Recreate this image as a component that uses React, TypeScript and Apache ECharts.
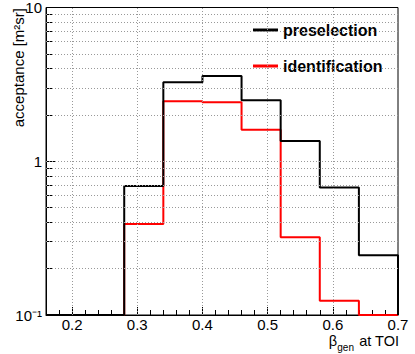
import React, { useEffect, useRef } from "react";
import * as echarts from "echarts";

const binEdges = [0.16, 0.22, 0.28, 0.34, 0.4, 0.46, 0.52, 0.58, 0.64, 0.7];
const preselection = [0.1, 0.1, 0.69, 3.26, 3.58, 2.49, 1.355, 0.675, 0.245];
const identification = [0.1, 0.1, 0.39, 2.46, 2.42, 1.6, 0.32, 0.124, 0.1];
const xMajorTicks = [0.2, 0.3, 0.4, 0.5, 0.6, 0.7];
const xMinorTicks = [0.18, 0.22, 0.24, 0.26, 0.28, 0.32, 0.34, 0.36, 0.38, 0.42, 0.44, 0.46, 0.48, 0.52, 0.54, 0.56, 0.58, 0.62, 0.64, 0.66, 0.68];
const yMinorTicks = [0.2, 0.3, 0.4, 0.5, 0.6, 0.7, 0.8, 0.9, 2, 3, 4, 5, 6, 7, 8, 9];
const yGridValues = [0.2, 0.3, 0.4, 0.5, 0.6, 0.7, 0.8, 0.9, 1, 2, 3, 4, 5, 6, 7, 8, 9];
const xGridValues = [0.2, 0.3, 0.4, 0.5, 0.6];

const FONT = "'Liberation Sans', Arial, Helvetica, sans-serif";

function stepData(vals: number[]) {
  const pts: number[][] = [];
  for (let i = 0; i < binEdges.length; i++) {
    pts.push([binEdges[i], vals[Math.min(i, vals.length - 1)]]);
  }
  pts.push([binEdges[binEdges.length - 1], 0.1]);
  return pts;
}

export default function App() {
  const ref = useRef<HTMLDivElement>(null);
  useEffect(() => {
    if (!ref.current) return;
    const chart = echarts.init(ref.current, undefined, { renderer: "svg" });
    const gridLine = { type: [1, 2], color: "#999", width: 1 };
    chart.setOption({
      animation: false,
      backgroundColor: "#fff",
      grid: {
        left: 46,
        right: 17,
        top: 7,
        bottom: 39,
        show: true,
        borderColor: "#000",
        borderWidth: 1,
        backgroundColor: "transparent",
      },
      legend: {
        left: 253,
        top: 21,
        padding: 0,
        orient: "vertical",
        itemWidth: 25,
        itemHeight: 3,
        itemGap: 18,
        icon: "rect",
        data: ["preselection", "identification"],
        textStyle: {
          fontFamily: FONT,
          fontWeight: "bold",
          fontSize: 16,
          color: "#000",
          lineHeight: 18,
        },
      },
      xAxis: [
        {
          type: "value",
          min: 0.16,
          max: 0.7,
          axisLine: { show: true, lineStyle: { color: "#000", width: 1 } },
          axisTick: { show: true, inside: true, length: 8, customValues: xMajorTicks, lineStyle: { color: "#000" } },
          axisLabel: {
            show: true,
            customValues: xMajorTicks,
            margin: 2,
            fontFamily: FONT,
            fontSize: 15,
            lineHeight: 15,
            color: "#000",
            formatter: (v: number) => v.toFixed(1),
          },
          splitLine: { show: false },
        },
        {
          type: "value",
          min: 0.16,
          max: 0.7,
          position: "bottom",
          axisLine: { show: false },
          axisTick: { show: true, inside: true, length: 5, customValues: xMinorTicks, lineStyle: { color: "#000" } },
          axisLabel: { show: false },
          splitLine: { show: false },
        },
      ],
      yAxis: [
        {
          type: "log",
          logBase: 10,
          min: 0.1,
          max: 10,
          axisLine: { show: true, lineStyle: { color: "#000", width: 1 } },
          axisTick: { show: true, inside: true, length: 9, lineStyle: { color: "#000" } },
          axisLabel: {
            margin: 4,
            fontFamily: FONT,
            fontSize: 15,
            color: "#000",
            formatter: (v: number) => {
              if (Math.abs(v - 0.1) < 1e-6) return "10⁻¹";
              if (Math.abs(v - 1) < 1e-6) return "1";
              if (Math.abs(v - 10) < 1e-6) return "10";
              return "";
            },
          },
          splitLine: { show: false },
        },
        {
          type: "log",
          logBase: 10,
          min: 0.1,
          max: 10,
          position: "left",
          axisLine: { show: false },
          axisTick: { show: true, inside: true, length: 7, customValues: yMinorTicks, lineStyle: { color: "#000" } },
          axisLabel: { show: false },
          splitLine: { show: false },
        },
      ],
      graphic: [
        {
          type: "text",
          x: 18,
          y: 8,
          rotation: Math.PI / 2,
          style: {
            text: "acceptance [m²sr]",
            font: `15px ${FONT}`,
            fill: "#000",
            align: "right",
            verticalAlign: "middle",
          },
        },
        {
          type: "text",
          x: 399,
          y: 341,
          style: {
            text: "at TOI",
            font: `14.5px ${FONT}`,
            fill: "#000",
            align: "right",
            verticalAlign: "middle",
          },
        },
        {
          type: "text",
          x: 354,
          y: 347.5,
          style: {
            text: "gen",
            font: `10px ${FONT}`,
            fill: "#000",
            align: "right",
            verticalAlign: "middle",
          },
        },
        {
          type: "text",
          x: 337,
          y: 341,
          style: {
            text: "β",
            font: `14.5px ${FONT}`,
            fill: "#000",
            align: "right",
            verticalAlign: "middle",
          },
        },
      ],
      series: [
        {
          name: "grid",
          type: "line",
          data: [],
          z: 1,
          silent: true,
          markLine: {
            silent: true,
            symbol: "none",
            label: { show: false },
            lineStyle: gridLine,
            data: [
              ...yGridValues.map((v) => ({ yAxis: v })),
              ...xGridValues.map((v) => ({ xAxis: v })),
            ],
          },
        },
        {
          name: "identification",
          type: "line",
          step: "end",
          data: stepData(identification),
          showSymbol: false,
          symbol: "none",
          clip: false,
          z: 3,
          color: "#ff0000",
          lineStyle: { color: "#ff0000", width: 2 },
        },
        {
          name: "preselection",
          type: "line",
          step: "end",
          data: stepData(preselection),
          showSymbol: false,
          symbol: "none",
          clip: false,
          z: 4,
          color: "#000000",
          lineStyle: { color: "#000000", width: 2 },
        },
      ],
    });
    return () => chart.dispose();
  }, []);
  return (
    <div
      ref={ref}
      style={{ position: "fixed", left: 0, top: 0, width: 415, height: 354, background: "#fff" }}
    />
  );
}
